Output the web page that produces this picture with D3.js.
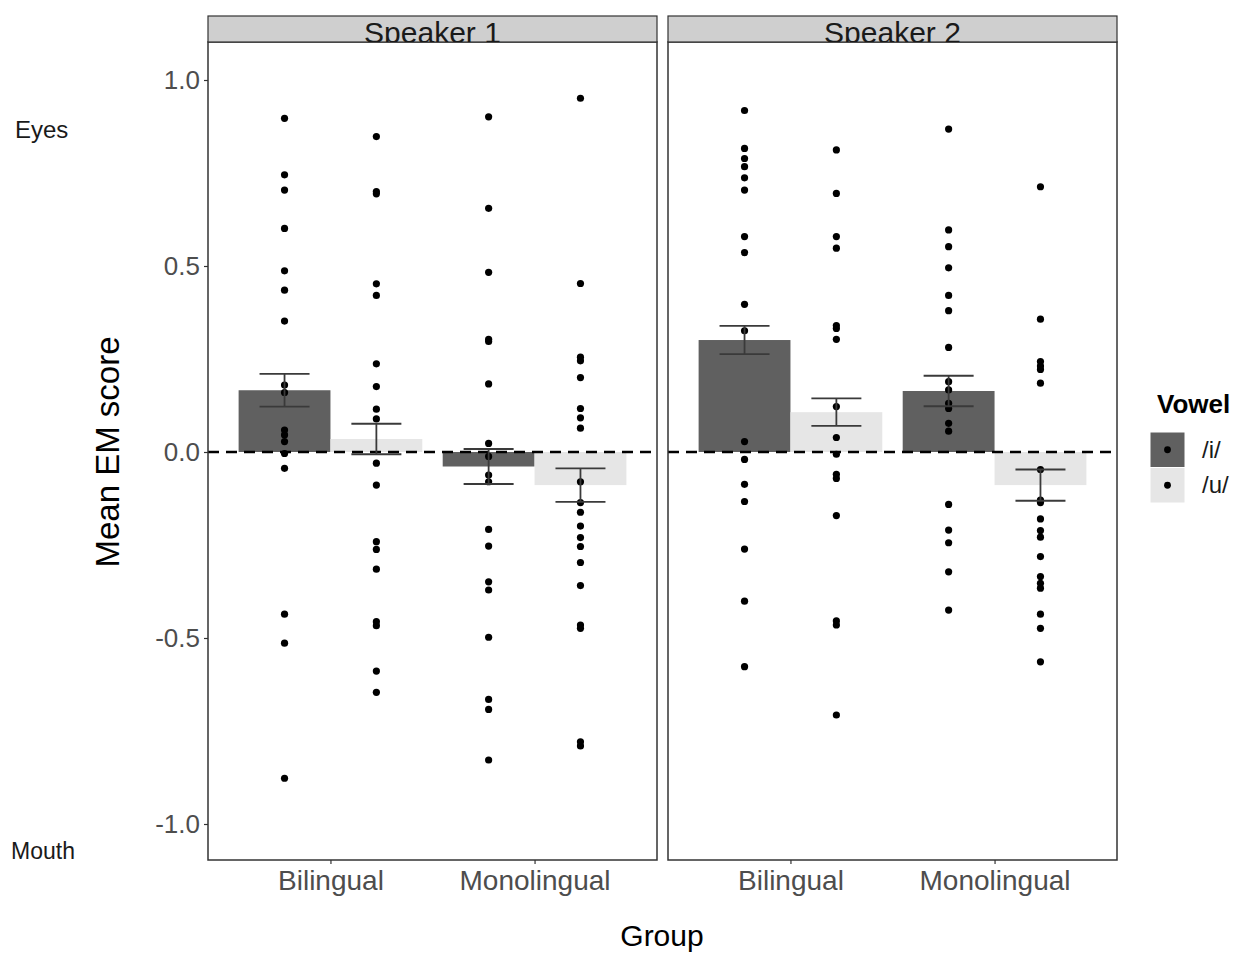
<!DOCTYPE html>
<html>
<head>
<meta charset="utf-8">
<script src="https://cdn.jsdelivr.net/npm/d3@7"></script>
<style>
  html, body { margin: 0; padding: 0; background: #fff; }
  svg text { font-family: "Liberation Sans", Arial, sans-serif; }
</style>
</head>
<body>
<svg id="chart" width="1240" height="955"></svg>
<script>
// ---------- data ----------
const speakers = ["Speaker 1", "Speaker 2"];
const groups = ["Bilingual", "Monolingual"];
const vowels = ["/i/", "/u/"];
const yTicks = [-1.0, -0.5, 0.0, 0.5, 1.0];
const yTickLabels = ["-1.0", "-0.5", "0.0", "0.5", "1.0"];

// bar means & standard errors, order: Bilingual /i/, Bilingual /u/, Monolingual /i/, Monolingual /u/
const s1Means = [0.166, 0.035, -0.039, -0.089];
const s1SE    = [0.044, 0.041, 0.047, 0.045];
const s2Means = [0.301, 0.107, 0.164, -0.089];
const s2SE    = [0.038, 0.037, 0.041, 0.042];

// individual participant scores
const s1BilI  = [0.897, 0.745, 0.704, 0.601, 0.487, 0.435, 0.352, 0.180, 0.160, 0.059, 0.046, 0.028, -0.004, -0.044, -0.436, -0.514, -0.877];
const s1BilU  = [0.848, 0.700, 0.694, 0.452, 0.421, 0.237, 0.176, 0.115, 0.089, -0.030, -0.089, -0.241, -0.262, -0.315, -0.456, -0.467, -0.589, -0.646];
const s1MonoI = [0.901, 0.655, 0.483, 0.303, 0.297, 0.183, 0.023, -0.012, -0.062, -0.080, -0.208, -0.253, -0.349, -0.371, -0.498, -0.665, -0.692, -0.828];
const s1MonoU = [0.951, 0.453, 0.255, 0.245, 0.200, 0.117, 0.092, 0.064, -0.080, -0.136, -0.162, -0.199, -0.230, -0.254, -0.297, -0.359, -0.465, -0.474, -0.779, -0.790];
const s2BilI  = [0.918, 0.816, 0.789, 0.767, 0.737, 0.704, 0.579, 0.536, 0.397, 0.326, 0.028, -0.020, -0.087, -0.133, -0.261, -0.401, -0.577];
const s2BilU  = [0.812, 0.695, 0.579, 0.548, 0.340, 0.332, 0.303, 0.122, 0.039, -0.006, -0.060, -0.071, -0.171, -0.454, -0.465, -0.707];
const s2MonoI = [0.868, 0.597, 0.552, 0.495, 0.421, 0.380, 0.281, 0.189, 0.167, 0.131, 0.117, 0.077, 0.056, -0.141, -0.210, -0.244, -0.322, -0.425];
const s2MonoU = [0.713, 0.357, 0.243, 0.231, 0.222, 0.185, -0.047, -0.129, -0.136, -0.180, -0.211, -0.229, -0.281, -0.335, -0.353, -0.366, -0.436, -0.474, -0.564];

// ---------- build tables ----------
const meansBySpeaker = [s1Means, s2Means];
const seBySpeaker = [s1SE, s2SE];
const pointsBySpeaker = [[s1BilI, s1BilU, s1MonoI, s1MonoU], [s2BilI, s2BilU, s2MonoI, s2MonoU]];
const cells = [];
groups.forEach(g => vowels.forEach(v => cells.push({ group: g, vowel: v })));

// ---------- layout ----------
const svg = d3.select("#chart");
const panelTop = 42, panelBottom = 860, stripTop = 16;
const panels = [{ x0: 208, x1: 657 }, { x0: 668, x1: 1117 }];
const fillColor = d3.scaleOrdinal().domain(vowels).range(["#606060", "#e6e6e6"]);

const y = d3.scaleLinear().domain([-1, 1]).range([824, 80]);
const textGrey = "#4d4d4d";
const borderCol = "#333333";

speakers.forEach((sp, si) => {
  const P = panels[si];
  const x = d3.scalePoint().domain(groups).range([P.x0, P.x1]).padding(0.6);
  const unit = x.step();
  const xv = d3.scaleBand().domain(vowels).range([-0.45 * unit, 0.45 * unit]).padding(0);
  const g = svg.append("g");
  const clipId = "clip" + si;
  svg.append("clipPath").attr("id", clipId).append("rect")
    .attr("x", P.x0).attr("y", panelTop).attr("width", P.x1 - P.x0).attr("height", panelBottom - panelTop);
  const plot = g.append("g").attr("clip-path", `url(#${clipId})`);

  const data = cells.map((c, i) => ({
    ...c, mean: meansBySpeaker[si][i], se: seBySpeaker[si][i], pts: pointsBySpeaker[si][i]
  }));

  // bars
  plot.selectAll("rect.bar").data(data).join("rect").attr("class", "bar")
    .attr("x", d => x(d.group) + xv(d.vowel))
    .attr("width", xv.bandwidth())
    .attr("y", d => y(Math.max(0, d.mean)))
    .attr("height", d => Math.abs(y(d.mean) - y(0)))
    .attr("fill", d => fillColor(d.vowel));

  // zero line
  plot.append("line")
    .attr("x1", P.x0).attr("x2", P.x1).attr("y1", y(0)).attr("y2", y(0))
    .attr("stroke", "#000").attr("stroke-width", 2.6).attr("stroke-dasharray", "11,7");

  // points
  data.forEach(d => {
    const cx = x(d.group) + xv(d.vowel) + xv.bandwidth() / 2;
    plot.selectAll(null).data(d.pts).join("circle")
      .attr("cx", cx).attr("cy", v => y(v)).attr("r", 3.6).attr("fill", "#000");
  });

  // error bars
  const eb = plot.selectAll("g.eb").data(data).join("g").attr("class", "eb");
  const capHalf = 25;
  eb.each(function (d) {
    const cx = x(d.group) + xv(d.vowel) + xv.bandwidth() / 2;
    const s = d3.select(this);
    const lo = y(d.mean - d.se), hi = y(d.mean + d.se);
    s.append("line").attr("x1", cx).attr("x2", cx).attr("y1", lo).attr("y2", hi);
    s.append("line").attr("x1", cx - capHalf).attr("x2", cx + capHalf).attr("y1", lo).attr("y2", lo);
    s.append("line").attr("x1", cx - capHalf).attr("x2", cx + capHalf).attr("y1", hi).attr("y2", hi);
    s.selectAll("line").attr("stroke", "#3a3a3a").attr("stroke-width", 1.8);
  });

  // panel border
  g.append("rect").attr("x", P.x0).attr("y", panelTop).attr("width", P.x1 - P.x0).attr("height", panelBottom - panelTop)
    .attr("fill", "none").attr("stroke", borderCol).attr("stroke-width", 1.5);

  // strip
  const sclip = "sclip" + si;
  svg.append("clipPath").attr("id", sclip).append("rect")
    .attr("x", P.x0).attr("y", stripTop).attr("width", P.x1 - P.x0).attr("height", panelTop - stripTop);
  g.append("rect").attr("x", P.x0).attr("y", stripTop).attr("width", P.x1 - P.x0).attr("height", panelTop - stripTop)
    .attr("fill", "#cfcfcf").attr("stroke", borderCol).attr("stroke-width", 1.2);
  g.append("text").attr("clip-path", `url(#${sclip})`)
    .attr("x", (P.x0 + P.x1) / 2).attr("y", 43).attr("text-anchor", "middle")
    .attr("font-size", 30).attr("fill", "#1a1a1a").text(sp);

  // x axis
  const xAxis = g.append("g").attr("transform", `translate(0,${panelBottom})`)
    .call(d3.axisBottom(x).tickSize(4).tickPadding(6));
  xAxis.select(".domain").remove();
  xAxis.selectAll(".tick line").attr("stroke", borderCol).attr("stroke-width", 1.2);
  xAxis.selectAll(".tick text").attr("font-size", 28).attr("fill", textGrey)
    .attr("font-family", "Liberation Sans, Arial, sans-serif");

  // y axis on first panel
  if (si === 0) {
    const yAxis = g.append("g").attr("transform", `translate(${P.x0},0)`)
      .call(d3.axisLeft(y).tickValues(yTicks).tickFormat((d, i) => yTickLabels[i]).tickSize(4).tickPadding(4));
    yAxis.select(".domain").remove();
    yAxis.selectAll(".tick line").attr("stroke", borderCol).attr("stroke-width", 1.2);
    yAxis.selectAll(".tick text").attr("font-size", 26).attr("fill", textGrey)
      .attr("font-family", "Liberation Sans, Arial, sans-serif");
  }
});

// axis titles
svg.append("text").attr("x", 662).attr("y", 946).attr("text-anchor", "middle")
  .attr("font-size", 30).attr("fill", "#000").text("Group");
svg.append("text").attr("transform", "translate(119,452) rotate(-90)").attr("text-anchor", "middle")
  .attr("font-size", 33).attr("fill", "#000").text("Mean EM score");

// side annotations
svg.append("text").attr("x", 15).attr("y", 138).attr("font-size", 24).attr("fill", "#1a1a1a").text("Eyes");
svg.append("text").attr("x", 11).attr("y", 859).attr("font-size", 23).attr("fill", "#1a1a1a").text("Mouth");

// legend
const lg = svg.append("g");
lg.append("text").attr("x", 1157).attr("y", 413).attr("font-size", 26).attr("font-weight", "bold")
  .attr("fill", "#000").text("Vowel");
const keyY = d3.scaleBand().domain(vowels).range([432, 503]);
vowels.forEach(v => {
  lg.append("rect").attr("x", 1150).attr("y", keyY(v)).attr("width", 35).attr("height", keyY.bandwidth())
    .attr("fill", fillColor(v)).attr("stroke", "#ffffff").attr("stroke-width", 1);
  lg.append("circle").attr("cx", 1167.5).attr("cy", keyY(v) + keyY.bandwidth() / 2).attr("r", 3.4).attr("fill", "#000");
  lg.append("text").attr("x", 1202).attr("y", keyY(v) + keyY.bandwidth() / 2 + 8)
    .attr("font-size", 24).attr("fill", "#1a1a1a").text(v);
});
</script>
</body>
</html>
